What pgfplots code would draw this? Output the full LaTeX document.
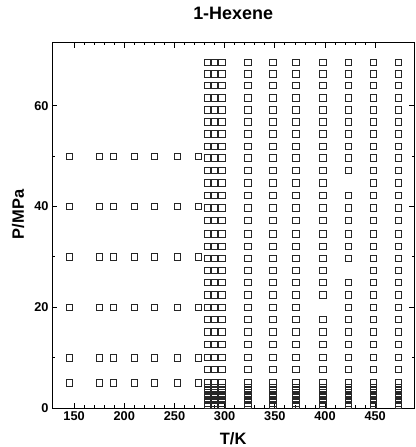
\documentclass[border=0pt]{standalone}
\usepackage{fontspec}
\setmainfont{Liberation Sans}
\usepackage{pgfplots}
\usepackage{pgfplotstable}
\pgfplotsset{compat=1.18}

% high-temperature (dense) columns; nan = no measurement
\pgfplotstableread{
P    Ta    Tb    Tc  Td  Te  Tf  Tg  Th  Ti  Tj
0.5  283 289.5 297 323 348 371 398 423 448 473
1.0  283 289.5 297 323 348 371 398 423 448 473
1.5  283 289.5 297 323 348 371 398 423 448 473
2.0  283 289.5 297 323 348 371 398 423 448 473
2.5  283 289.5 297 323 348 371 398 423 448 473
3.0  283 289.5 297 323 348 371 398 423 448 473
3.5  283 289.5 297 323 348 371 398 423 448 473
4.0  283 289.5 297 323 348 371 398 423 448 473
5.0  283 289.5 297 323 348 371 398 423 448 473
7.7  283 289.5 297 323 348 371 398 423 448 473
10.1 283 289.5 297 323 348 371 398 423 448 473
12.6 283 289.5 297 323 348 371 398 423 448 473
15.1 283 289.5 297 323 348 371 398 423 448 473
17.6 283 289.5 297 323 348 371 398 423 448 473
20.0 283 289.5 297 323 348 371 nan 423 448 473
22.5 283 289.5 297 323 348 371 398 423 448 473
24.9 283 289.5 297 323 348 371 398 423 448 473
27.3 283 289.5 297 323 348 371 398 nan 448 473
29.7 283 289.5 297 323 348 371 398 423 448 473
32.1 283 289.5 297 323 348 371 398 423 448 473
34.6 283 289.5 297 323 348 371 398 423 448 473
37.2 283 289.5 297 323 348 371 398 423 448 473
39.7 283 289.5 297 323 348 371 398 423 448 473
42.2 283 289.5 297 323 348 371 398 423 448 473
44.7 283 289.5 297 323 348 371 398 nan 448 473
47.2 283 289.5 297 323 348 371 398 423 448 473
49.7 283 289.5 297 323 348 371 398 423 448 473
52.0 283 289.5 297 323 348 371 398 423 448 473
54.4 283 289.5 297 323 348 371 398 423 448 473
56.8 283 289.5 297 323 348 371 398 423 448 473
59.2 283 289.5 297 323 348 371 398 423 448 473
61.6 283 289.5 297 323 348 371 398 423 448 473
64.0 283 289.5 297 323 348 371 398 423 448 473
66.3 283 289.5 297 323 348 371 398 423 448 473
68.6 283 289.5 297 323 348 371 398 423 448 473
}\hidata

% low-temperature columns
\pgfplotstableread{
P   La  Lb  Lc  Ld  Le  Lf  Lg
5   145 175 189 210 230 253 274
10  145 175 189 210 230 253 274
20  145 175 189 210 230 253 274
30  145 175 189 210 230 253 274
40  145 175 189 210 230 253 274
50  145 175 189 210 230 253 274
}\lodata

\pgfplotsset{pt/.style={only marks, mark=square, mark size=3.2bp, color=black!85, mark options={line width=0.55pt, solid, fill=none}}}

\begin{document}
\begin{tikzpicture}
\begin{axis}[
  scale only axis,
  width=362bp, height=365bp,
  xmin=128, xmax=489, ymin=0, ymax=72.5,
  xtick={150,200,...,450}, minor x tick num=4,
  ytick={0,20,40,60}, minor y tick num=1,
  tick align=inside,
  major tick length=5bp, minor tick length=2.6bp,
  axis line style={line width=0.8pt},
  every tick/.style={black, line width=0.7pt},
  /pgf/number format/assume math mode=true,
  ticklabel style={font=\fontsize{12.8}{14}\selectfont\bfseries},
  xlabel={T/K}, ylabel={P/MPa},
  label style={font=\fontsize{16.5}{18}\selectfont\bfseries},
  xlabel style={at={(axis description cs:0.5,-0.084)}, anchor=center},
  ylabel style={at={(axis description cs:-0.094,0.53)}, anchor=center},
  title={1-Hexene},
  title style={font=\fontsize{18}{20}\selectfont\bfseries, at={(axis description cs:0.5,1.064)}, anchor=center},
  clip=false,
]
\addplot[pt] table[x=La,y=P]{\lodata};
\addplot[pt] table[x=Lb,y=P]{\lodata};
\addplot[pt] table[x=Lc,y=P]{\lodata};
\addplot[pt] table[x=Ld,y=P]{\lodata};
\addplot[pt] table[x=Le,y=P]{\lodata};
\addplot[pt] table[x=Lf,y=P]{\lodata};
\addplot[pt] table[x=Lg,y=P]{\lodata};
\addplot[pt] table[x=Ta,y=P]{\hidata};
\addplot[pt] table[x=Tb,y=P]{\hidata};
\addplot[pt] table[x=Tc,y=P]{\hidata};
\addplot[pt] table[x=Td,y=P]{\hidata};
\addplot[pt] table[x=Te,y=P]{\hidata};
\addplot[pt] table[x=Tf,y=P]{\hidata};
\addplot[pt] table[x=Tg,y=P]{\hidata};
\addplot[pt] table[x=Th,y=P]{\hidata};
\addplot[pt] table[x=Ti,y=P]{\hidata};
\addplot[pt] table[x=Tj,y=P]{\hidata};
\end{axis}
\pgfresetboundingbox
\path[use as bounding box] (-52bp,-39bp) rectangle (363bp,407.7bp);
\end{tikzpicture}
\end{document}
